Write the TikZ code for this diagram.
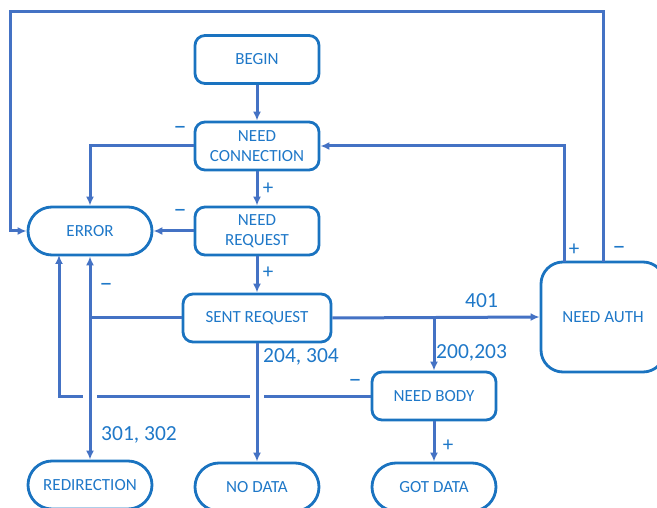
\documentclass[tikz,border=0pt]{standalone}
\usepackage{fontspec}
\setmainfont{Carlito}
\usetikzlibrary{arrows.meta,calc}
\definecolor{wire}{HTML}{4472C4}
\definecolor{frame}{HTML}{1A73C0}
\definecolor{ink}{HTML}{1F78C8}
\tikzset{
  box/.style={draw=frame, line width=2.8pt, rounded corners=10pt, minimum width=124pt,
    minimum height=48pt, align=center, text=ink, inner sep=2pt,
    font=\fontsize{17}{20.5}\selectfont},
  pill/.style={box, rounded corners=24pt},
  wirestyle/.style={draw=wire, line width=3pt},
  arr/.style={wirestyle, -{Latex[length=9pt,width=8pt]}},
  sign/.style={text=ink, font=\fontsize{21}{22}\selectfont, inner sep=0pt},
  minus/.style={text=ink, font=\fontsize{26}{26}\selectfont, inner sep=0pt},
  code/.style={text=ink, font=\fontsize{21.5}{24}\selectfont, inner sep=0pt, anchor=west},
}
\begin{document}
\begin{tikzpicture}[x=1pt,y=-1pt]
\useasboundingbox (0,0) rectangle (657,508);
\begin{scope}
\clip (0,0) rectangle (657,508);

% states
\node[box]  (begin) at (257,59.5) {BEGIN};
\node[box]  (nconn) at (257,146) {NEED\\CONNECTION};
\node[pill] (error) at (90,231) {ERROR};
\node[box]  (nreq)  at (257,231) {NEED\\REQUEST};
\node[box, minimum width=148pt] (sent) at (257,318) {SENT REQUEST};
\node[box, rounded corners=22pt, minimum width=124pt, minimum height=110pt] (auth) at (603,317) {NEED AUTH};
\node[box]  (nbody) at (434,396) {NEED BODY};
\node[pill] (redir) at (90,485) {REDIRECTION};
\node[pill] (nodata) at (257,487) {NO DATA};
\node[pill] (got)   at (434,487) {GOT DATA};

% junction points
\coordinate (jleft) at (90,318);
\coordinate (jright) at (434,318);
\coordinate (authplus) at (564,262);
\coordinate (authminus) at (603,262);
\coordinate (errlow) at (59,255);

% NEED BODY failure path, drawn first so crossing lines jump over it
\draw[arr] (nbody.west) -| (errlow);
\fill[white] (83,390) rectangle (97,402);
\fill[white] (250,390) rectangle (264,402);

% main flow
\draw[arr] (begin) -- (nconn);
\draw[arr] (nconn.west) -| (error.north);
\draw[arr] (nconn) -- (nreq);
\draw[arr] (nreq.west) -- (error.east);
\draw[arr] (nreq) -- (sent);
\draw[wirestyle] (sent.west) -- (jleft);
\draw[arr] (jleft) -- (error.south);
\draw[arr] (jleft) -- (redir.north);
\draw[arr] (sent.south) -- (nodata.north);
\draw[arr] (sent.east) -- (auth.west);
\draw[arr] (jright) -- (nbody.north);
\draw[arr] (nbody) -- (got);
\draw[arr] (authplus) |- (nconn.east);
\draw[arr] (authminus) -- (603,12) -- (10,12) |- (error.west);

% labels
\node[minus] at (180,130) {–};
\node[sign]  at (268,189) {+};
\node[minus] at (180,213) {–};
\node[sign]  at (268,273) {+};
\node[minus] at (106,287) {–};
\node[minus] at (355,383) {–};
\node[sign]  at (448,446) {+};
\node[sign]  at (574,250) {+};
\node[minus] at (619,250) {–};
\node[code] at (465,301) {401};
\node[code] at (263,357) {204, 304};
\node[code] at (436,353) {200,203};
\node[code] at (101,435) {301, 302};
\end{scope}
\end{tikzpicture}
\end{document}
